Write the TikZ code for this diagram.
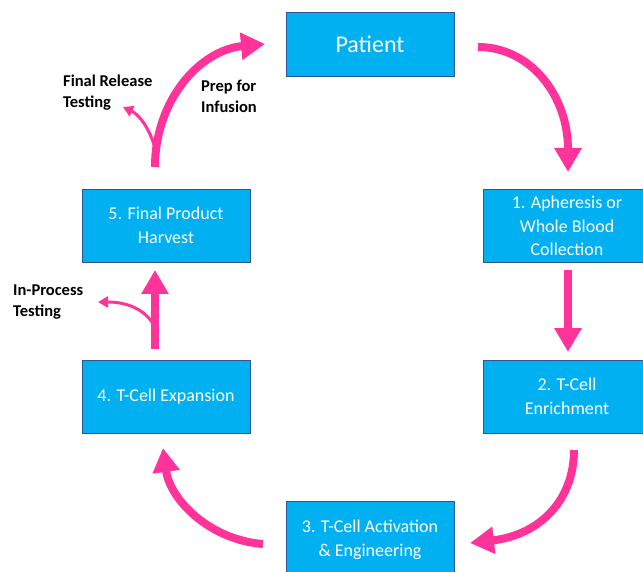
\documentclass[tikz,border=0pt]{standalone}
\usepackage{fontspec}
\setmainfont{Carlito}
\usetikzlibrary{arrows.meta}
\definecolor{boxfill}{HTML}{00B0F0}
\definecolor{boxline}{HTML}{2F5597}
\definecolor{flow}{HTML}{FF3399}
\begin{document}
\begin{tikzpicture}[x=1pt,y=-1pt,
  stepbox/.style={draw=boxline, line width=0.8pt, fill=boxfill, text=white,
    minimum width=168pt, minimum height=73pt, align=center, inner sep=0pt,
    font=\fontsize{18}{23.5}\selectfont},
  bigflow/.style={draw=flow, line width=8pt, -{Triangle[width=26pt,length=24pt]}},
  smallflow/.style={draw=flow, line width=3pt, -{Triangle[width=11pt,length=10pt]}},
  note/.style={font=\bfseries\fontsize{16.5}{21}\selectfont, align=left,
    inner sep=0pt, anchor=north west}]
\useasboundingbox (0,0) rectangle (643,572);
\fill[white] (0,0) rectangle (643,572);
\begin{scope}
  \clip (0,0) rectangle (643,572);
  % process steps
  \node[stepbox, minimum height=64pt, font=\fontsize{24}{28}\selectfont] (patient) at (370,44) {Patient};
  \node[stepbox] (s1) at (567,226) {1. Apheresis or\\Whole Blood\\Collection};
  \node[stepbox] (s2) at (567,396.5) {2. T-Cell\\Enrichment};
  \node[stepbox, minimum height=78pt] (s3) at (370,540) {3. T-Cell Activation\\\& Engineering};
  \node[stepbox] (s4) at (166,396.5) {4. T-Cell Expansion};
  \node[stepbox] (s5) at (166,225.5) {5. Final Product\\Harvest};
\end{scope}
% side notes
\node[note] (frt) at (63,75) {Final Release\\Testing};
\node[note] (pfi) at (201,80) {Prep for\\Infusion};
\node[note] (ipt) at (13,285) {In-Process\\Testing};
% arrow end points
\coordinate (a0s) at (478,47);
\coordinate (a0e) at (568,172);
\coordinate (a1s) at (568,270);
\coordinate (a1e) at (568,352);
\coordinate (a2s) at (574,450);
\coordinate (a2e) at (470,543);
\coordinate (a3s) at (263,544);
\coordinate (a3e) at (163,448);
\coordinate (a4s) at (155,349);
\coordinate (a4e) at (155,270);
\coordinate (a5s) at (155,167);
\coordinate (a5e) at (265,44);
\coordinate (ip) at (155,327);
\coordinate (ipe) at (98,302);
\coordinate (fr) at (155,148);
\coordinate (fre) at (123,107);
% main cycle
\draw[bigflow] (a0s) .. controls (530,47) and (568,95) .. (a0e);
\draw[bigflow] (a1s) -- (a1e);
\draw[bigflow] (a2s) .. controls (574,500) and (540,535) .. (a2e);
\draw[bigflow] (a3s) .. controls (210,540) and (170,500) .. (a3e);
\draw[bigflow] (a4s) -- (a4e);
\draw[bigflow] (a5s) .. controls (155,100) and (200,50) .. (a5e);
% testing branches
\draw[smallflow] (ip) .. controls (145,308) and (125,302) .. (ipe);
\draw[smallflow] (fr) .. controls (150,130) and (140,115) .. (fre);
\end{tikzpicture}
\end{document}
